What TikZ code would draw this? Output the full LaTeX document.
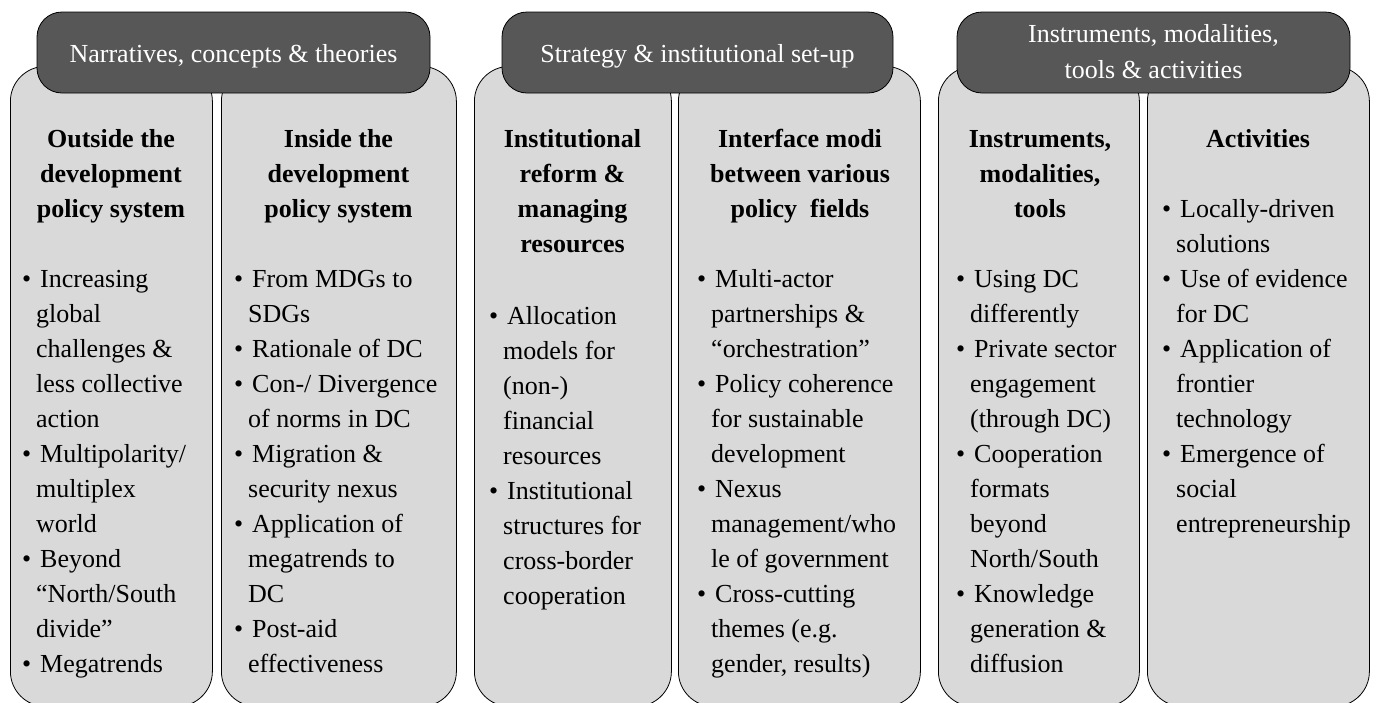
\documentclass[tikz,border=0pt]{standalone}
\usepackage{fontspec}
\setmainfont{Liberation Serif}
\definecolor{colfill}{RGB}{217,217,217}
\definecolor{hdrfill}{RGB}{87,87,87}
\newcommand\bul{\hspace*{4pt}\llap{\textbullet\hspace{9pt}}}
\tikzset{
  colbox/.style={draw=black, line width=0.8pt, fill=colfill, rounded corners=35pt, inner sep=0pt, anchor=north west},
  hdrbox/.style={draw=black, line width=0.8pt, fill=hdrfill, rounded corners=25pt, inner sep=0pt, minimum height=81pt},
  hdrtxt/.style={text=white, font=\fontsize{26}{35}\selectfont, anchor=base, inner sep=0pt},
  headtxt/.style={font=\fontsize{26}{35}\selectfont\bfseries, anchor=base, inner sep=0pt},
  bodytxt/.style={font=\fontsize{26}{35}\selectfont, anchor=base west, inner sep=0pt},
}
\newcommand\bodycol[5]{% prefix, x, y0, step, list
  \foreach \t [count=\i] in {#5} {\node[bodytxt] (#1\i) at (#2,{#3+#4*(\i-1)}) {\t};}}
\newcommand\headcol[4]{% prefix, x, y0, list
  \foreach \t [count=\i] in {#4} {\node[headtxt] (#1\i) at (#2,{#3+35*(\i-1)}) {\t};}}
\begin{document}
\begin{tikzpicture}[x=1pt,y=-1pt]
\useasboundingbox (0,0) rectangle (1376,702);
\fill[white] (0,0) rectangle (1376,702);
% columns
\node[colbox, minimum width=202pt, minimum height=640pt] (colA) at (10,66) {};
\node[colbox, minimum width=235pt, minimum height=640pt] (colB) at (221,66) {};
\node[colbox, minimum width=197pt, minimum height=640pt] (colC) at (474,66) {};
\node[colbox, minimum width=242pt, minimum height=640pt] (colD) at (678,66) {};
\node[colbox, minimum width=201pt, minimum height=640pt] (colE) at (938,66) {};
\node[colbox, minimum width=222pt, minimum height=640pt] (colF) at (1147,66) {};
% headers
\node[hdrbox, minimum width=393pt] (hdr1) at (233.5,52.5) {};
\node[hdrbox, minimum width=391pt] (hdr2) at (697.5,52.5) {};
\node[hdrbox, minimum width=393pt] (hdr3) at (1153.5,52.5) {};
\node[hdrtxt] (h1t) at (233.5,62) {Narratives, concepts \& theories};
\node[hdrtxt] (h2t) at (697.5,62) {Strategy \& institutional set-up};
\node[hdrtxt] (h3a) at (1153.5,42) {Instruments, modalities,};
\node[hdrtxt] (h3b) at (1153.5,78) {tools \& activities};
% column headings
\headcol{hA}{111}{147}{{Outside the},{development},{policy system}}
\headcol{hB}{338.5}{147}{{Inside the},{development},{policy system}}
\headcol{hC}{572.5}{147}{{Institutional},{reform \&},{managing},{resources}}
\headcol{hD}{800}{147}{{Interface modi},{between various},{policy\ \ fields}}
\headcol{hE}{1040}{147}{{Instruments,},{modalities,},{tools}}
\headcol{hF}{1258}{147}{{Activities}}
% bodies
\bodycol{A}{36}{287}{35}{{\bul Increasing},{global},{challenges \&},{less collective},{action},{\bul Multipolarity/},{multiplex},{world},{\bul Beyond},{“North/South},{divide”},{\bul Megatrends}}
\bodycol{B}{248}{287}{35}{{\bul From MDGs to},{SDGs},{\bul Rationale of DC},{\bul Con-/ Divergence},{of norms in DC},{\bul Migration \&},{security nexus},{\bul Application of},{megatrends to},{DC},{\bul Post-aid},{effectiveness}}
\bodycol{C}{503}{324}{35}{{\bul Allocation},{models for},{(non-)},{financial},{resources},{\bul Institutional},{structures for},{cross-border},{cooperation}}
\bodycol{D}{711}{287}{35}{{\bul Multi-actor},{partnerships \&},{“orchestration”},{\bul Policy coherence},{for sustainable},{development},{\bul Nexus},{management/who},{le of government},{\bul Cross-cutting},{themes (e.g.},{gender, results)}}
\bodycol{E}{970}{287}{35}{{\bul Using DC},{differently},{\bul Private sector},{engagement},{(through DC)},{\bul Cooperation},{formats},{beyond},{North/South},{\bul Knowledge},{generation \&},{diffusion}}
\bodycol{F}{1176}{217}{35}{{\bul Locally-driven},{solutions},{\bul Use of evidence},{for DC},{\bul Application of},{frontier},{technology},{\bul Emergence of},{social},{entrepreneurship}}
\end{tikzpicture}
\end{document}
